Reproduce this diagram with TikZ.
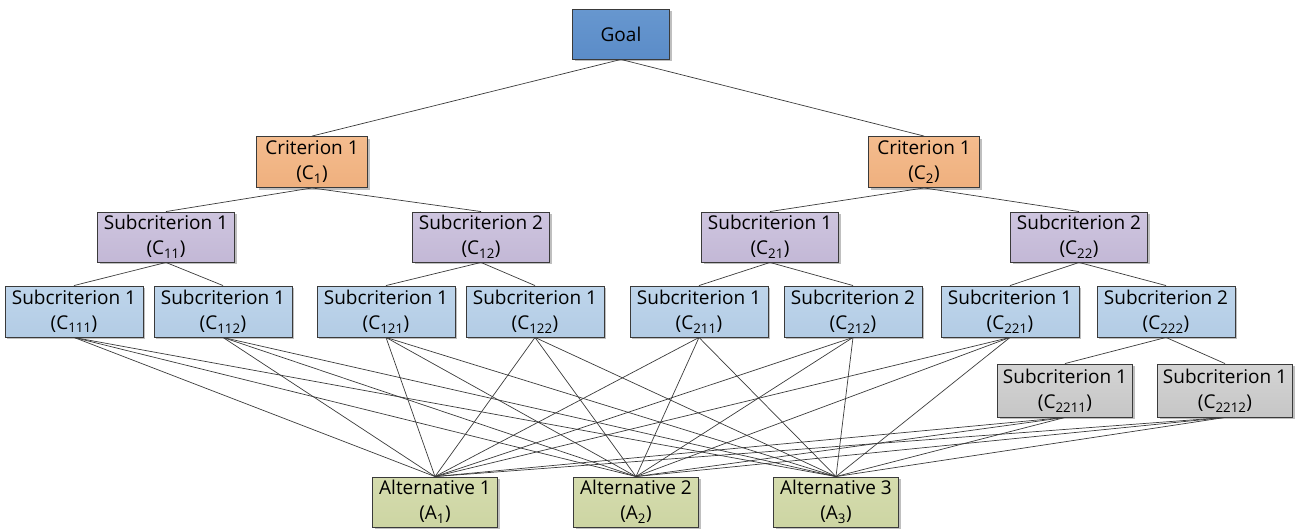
\documentclass[tikz,border=0pt]{standalone}
\usepackage{fontspec}
\setmainfont{Open Sans}
\usetikzlibrary{shadows}
\definecolor{goalfill}{HTML}{5B8CC8}
\definecolor{goaltop}{HTML}{6797CF}
\definecolor{critfill}{HTML}{EFB07E}
\definecolor{crittop}{HTML}{F4BC8E}
\definecolor{subfill}{HTML}{C3B8D6}
\definecolor{subtop}{HTML}{CEC5DF}
\definecolor{leaffill}{HTML}{B3CCE5}
\definecolor{leaftop}{HTML}{BED5EB}
\definecolor{grayfill}{HTML}{C6C6C6}
\definecolor{graytop}{HTML}{D4D4D4}
\definecolor{altfill}{HTML}{CDD5A3}
\definecolor{alttop}{HTML}{D5DCAE}
\definecolor{edgecol}{HTML}{3A3A3A}
\tikzset{
  x=1pt, y=-1pt,
  box/.style={draw=edgecol, line width=0.9pt, align=center, inner sep=0pt,
    minimum height=50pt, text=black,
    font=\fontsize{19}{25}\selectfont,
    drop shadow={shadow xshift=2pt, shadow yshift=-2pt, opacity=0.25, fill=black}},
  goalbox/.style={box, minimum width=97pt, top color=goaltop, bottom color=goalfill},
  critbox/.style={box, minimum width=111pt, minimum height=51pt, top color=crittop, bottom color=critfill},
  subbox/.style={box, minimum width=137pt, top color=subtop, bottom color=subfill},
  leafbox/.style={box, minimum width=138pt, minimum height=51pt, top color=leaftop, bottom color=leaffill},
  graybox/.style={box, minimum width=135pt, minimum height=53pt, top color=graytop, bottom color=grayfill},
  altbox/.style={box, minimum width=125pt, top color=alttop, bottom color=altfill},
  link/.style={draw=edgecol, line width=0.7pt}
}
\newcommand{\sbs}[1]{\textsubscript{#1}}
\begin{document}
\begin{tikzpicture}
\useasboundingbox (0,0) rectangle (1299,528);
% top
\node[goalbox] (goal) at (621,34) {Goal};
% criteria
\node[critbox] (c1) at (312,162) {Criterion 1\\(C\sbs{1})};
\node[critbox] (c2) at (924,162) {Criterion 1\\(C\sbs{2})};
% subcriteria, second level
\node[subbox] (c11) at (166,237) {Subcriterion 1\\(C\sbs{11})};
\node[subbox] (c12) at (481,237) {Subcriterion 2\\(C\sbs{12})};
\node[subbox] (c21) at (770,237) {Subcriterion 1\\(C\sbs{21})};
\node[subbox] (c22) at (1079,237) {Subcriterion 2\\(C\sbs{22})};
% subcriteria, third level
\node[leafbox] (c111) at (74,311.5) {Subcriterion 1\\(C\sbs{111})};
\node[leafbox] (c112) at (223,311.5) {Subcriterion 1\\(C\sbs{112})};
\node[leafbox] (c121) at (386,311.5) {Subcriterion 1\\(C\sbs{121})};
\node[leafbox] (c122) at (535,311.5) {Subcriterion 1\\(C\sbs{122})};
\node[leafbox] (c211) at (699,311.5) {Subcriterion 1\\(C\sbs{211})};
\node[leafbox] (c212) at (853,311.5) {Subcriterion 2\\(C\sbs{212})};
\node[leafbox] (c221) at (1010,311.5) {Subcriterion 1\\(C\sbs{221})};
\node[leafbox] (c222) at (1166,311.5) {Subcriterion 2\\(C\sbs{222})};
% subcriteria, fourth level
\node[graybox] (c2211) at (1065,390.5) {Subcriterion 1\\(C\sbs{2211})};
\node[graybox] (c2212) at (1225,390.5) {Subcriterion 1\\(C\sbs{2212})};
% alternatives
\node[altbox] (a1) at (435,502) {Alternative 1\\(A\sbs{1})};
\node[altbox] (a2) at (636,502) {Alternative 2\\(A\sbs{2})};
\node[altbox] (a3) at (836,502) {Alternative 3\\(A\sbs{3})};
% hierarchy links
\begin{scope}[on background layer/.try]
\foreach \p/\c in {goal/c1, goal/c2, c1/c11, c1/c12, c2/c21, c2/c22,
  c11/c111, c11/c112, c12/c121, c12/c122, c21/c211, c21/c212,
  c22/c221, c22/c222, c222/c2211, c222/c2212}
  \draw[link] (\p.south) -- (\c.north);
% every leaf criterion to every alternative
\foreach \l in {c111, c112, c121, c122, c211, c212, c221, c2211, c2212}
  \foreach \a in {a1, a2, a3}
    \draw[link] (\l.south) -- (\a.north);
\end{scope}
\end{tikzpicture}
\end{document}
